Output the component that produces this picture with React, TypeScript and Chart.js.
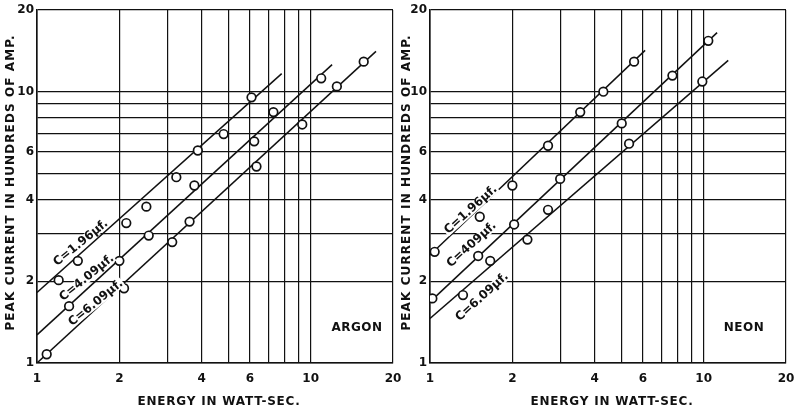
import React, { useEffect, useRef } from "react";
import { Chart, registerables } from "chart.js";

Chart.register(...registerables);

// ---------- axis ticks ----------
const GRID_VALUES = [1, 2, 3, 4, 5, 6, 7, 8, 9, 10, 20];
const LABEL_VALUES = [1, 2, 4, 6, 10, 20];

const Y_TITLE = "PEAK CURRENT IN HUNDREDS OF AMP.";
const X_TITLE = "ENERGY IN WATT-SEC.";

// ---------- ARGON (energy W·s, peak current in hundreds A) ----------
const argon196Pts: [number, number][] = [
  [1.2, 2.02], [1.41, 2.38], [2.12, 3.28], [2.51, 3.77], [3.23, 4.84],
  [3.87, 6.07], [4.81, 6.98], [6.08, 9.53],
];
const argon409Pts: [number, number][] = [
  [1.31, 1.62], [2.0, 2.38], [2.56, 2.95], [3.76, 4.51], [6.22, 6.56],
  [7.31, 8.41], [10.93, 11.2],
];
const argon609Pts: [number, number][] = [
  [1.085, 1.077], [2.08, 1.886], [3.12, 2.79], [3.61, 3.32], [6.34, 5.3],
  [9.32, 7.57], [12.47, 10.46], [15.63, 12.9],
];
const argon196Fit: [number, number][] = [[1.0, 1.82], [7.84, 11.65]];
const argon409Fit: [number, number][] = [[1.0, 1.27], [11.98, 12.58]];
const argon609Fit: [number, number][] = [[1.0, 1.0], [17.33, 14.08]];

// ---------- NEON ----------
const neon196Pts: [number, number][] = [
  [1.04, 2.57], [1.52, 3.46], [2.0, 4.51], [2.7, 6.32], [3.54, 8.41],
  [4.3, 10.0], [5.57, 12.9],
];
const neon409Pts: [number, number][] = [
  [1.02, 1.73], [1.5, 2.48], [2.03, 3.24], [2.99, 4.77], [5.02, 7.64],
  [7.69, 11.46], [10.4, 15.4],
];
const neon609Pts: [number, number][] = [
  [1.32, 1.78], [1.66, 2.38], [2.27, 2.85], [2.7, 3.67], [5.34, 6.43],
  [9.89, 10.9],
];
const neon196Fit: [number, number][] = [[1.0, 2.5], [6.11, 14.2]];
const neon409Fit: [number, number][] = [[1.0, 1.68], [11.2, 16.5]];
const neon609Fit: [number, number][] = [[1.0, 1.46], [12.3, 13.05]];

// curve labels: text and anchor in data coordinates
const argonLabels = [
  { text: "C=1.96µf.", x: 1.446, y: 2.77 },
  { text: "C=4.09µf.", x: 1.52, y: 2.06 },
  { text: "C=6.09µf.", x: 1.64, y: 1.665 },
];
const neonLabels = [
  { text: "C=1.96µf.", x: 1.41, y: 3.67 },
  { text: "C=409µf.", x: 1.42, y: 2.73 },
  { text: "C=6.09µf.", x: 1.55, y: 1.75 },
];

const INK = "#111111";
const FONT = '"DejaVu Sans", sans-serif';

type PanelCfg = {
  name: string;
  pts: [number, number][][];
  fits: [number, number][][];
  labels: { text: string; x: number; y: number }[];
  labelAngle: number;
  yAxisWidth: number;
  padRight: number;
  yTitleX: number;
  nameX: number;
  nameY: number;
};

function toXY(arr: [number, number][]) {
  return arr.map(([x, y]) => ({ x, y }));
}

function makeConfig(cfg: PanelCfg): any {
  const pointSets = cfg.pts.map((p) => ({
    type: "scatter",
    data: toXY(p),
    pointRadius: 4.3,
    pointHoverRadius: 4.3,
    pointBackgroundColor: "#ffffff",
    pointBorderColor: INK,
    pointBorderWidth: 1.7,
    showLine: false,
    order: 0,
  }));
  const fitSets = cfg.fits.map((f) => ({
    type: "scatter",
    data: toXY(f),
    showLine: true,
    borderColor: INK,
    borderWidth: 1.5,
    pointRadius: 0,
    fill: false,
    order: 1,
  }));

  const decor = {
    id: "decor_" + cfg.name,
    afterDatasetsDraw(chart: any) {
      const { ctx, chartArea } = chart;
      const xs = chart.scales.x;
      const ys = chart.scales.y;
      ctx.save();
      ctx.fillStyle = INK;
      ctx.textAlign = "center";
      ctx.textBaseline = "middle";
      ctx.font = `bold 12px ${FONT}`;

      // y title
      ctx.save();
      (ctx as any).letterSpacing = "1.1px";
      ctx.translate(cfg.yTitleX, (chartArea.top + chartArea.bottom) / 2 - 4);
      ctx.rotate(-Math.PI / 2);
      ctx.fillText(Y_TITLE, 0, 0);
      ctx.restore();

      // x title
      ctx.save();
      (ctx as any).letterSpacing = "0.8px";
      ctx.fillText(X_TITLE, (chartArea.left + chartArea.right) / 2 + 4, 402);
      ctx.restore();

      // panel name
      ctx.save();
      (ctx as any).letterSpacing = "0.5px";
      ctx.fillText(cfg.name, cfg.nameX, cfg.nameY);
      ctx.restore();

      // curve labels
      for (const l of cfg.labels) {
        const px = xs.getPixelForValue(l.x);
        const py = ys.getPixelForValue(l.y);
        ctx.save();
        ctx.translate(px, py);
        ctx.rotate((-cfg.labelAngle * Math.PI) / 180);
        ctx.fillStyle = "#ffffff";
        const w = ctx.measureText(l.text).width;
        ctx.fillRect(-w / 2 - 1, -5, w + 2, 10);
        ctx.fillStyle = INK;
        ctx.fillText(l.text, 0, 0);
        ctx.restore();
      }
      ctx.restore();
    },
  };

  const axisCommon = (isX: boolean) => ({
    type: "logarithmic",
    min: 1,
    max: 20,
    afterBuildTicks: (scale: any) => {
      scale.ticks = GRID_VALUES.map((v) => ({ value: v }));
    },
    afterFit: (scale: any) => {
      if (isX) {
        scale.height = 54;
        scale.paddingLeft = 0;
        scale.paddingRight = 0;
      } else {
        scale.width = cfg.yAxisWidth;
        scale.paddingTop = 0;
        scale.paddingBottom = 0;
      }
    },
    grid: {
      color: INK,
      lineWidth: 1.2,
      drawTicks: false,
    },
    border: { display: true, color: INK, width: 1.6 },
    ticks: {
      autoSkip: false,
      maxRotation: 0,
      minRotation: 0,
      padding: isX ? 9 : 3,
      color: INK,
      font: { family: FONT, size: 12, weight: "bold" },
      callback: (v: any) => (LABEL_VALUES.includes(Number(v)) ? String(v) : ""),
    },
  });

  return {
    type: "scatter",
    data: { datasets: [...pointSets, ...fitSets] },
    options: {
      responsive: false,
      animation: false,
      events: [],
      layout: { padding: { top: 10, right: cfg.padRight, bottom: 0, left: 0 } },
      plugins: {
        legend: { display: false },
        tooltip: { enabled: false },
        title: { display: false },
      },
      scales: {
        x: axisCommon(true),
        y: axisCommon(false),
      },
    },
    plugins: [decor],
  };
}

const argonCfg: PanelCfg = {
  name: "ARGON",
  pts: [argon196Pts, argon409Pts, argon609Pts],
  fits: [argon196Fit, argon409Fit, argon609Fit],
  labels: argonLabels,
  labelAngle: 39,
  yAxisWidth: 37,
  padRight: 17,
  yTitleX: 11,
  nameX: 357,
  nameY: 328,
};

const neonCfg: PanelCfg = {
  name: "NEON",
  pts: [neon196Pts, neon409Pts, neon609Pts],
  fits: [neon196Fit, neon409Fit, neon609Fit],
  labels: neonLabels,
  labelAngle: 42,
  yAxisWidth: 32,
  padRight: 10,
  yTitleX: 9,
  nameX: 346,
  nameY: 328,
};

function Panel({ cfg, left, width }: { cfg: PanelCfg; left: number; width: number }) {
  const ref = useRef<HTMLCanvasElement | null>(null);
  useEffect(() => {
    if (!ref.current) return;
    const chart = new Chart(ref.current, makeConfig(cfg));
    return () => chart.destroy();
  }, [cfg]);
  return (
    <canvas
      ref={ref}
      width={width}
      height={417}
      style={{ position: "absolute", left, top: 0, width, height: 417 }}
    />
  );
}

export default function App() {
  return (
    <div
      style={{
        position: "fixed",
        left: 0,
        top: 0,
        width: 796,
        height: 417,
        background: "#ffffff",
        overflow: "hidden",
      }}
    >
      <Panel cfg={argonCfg} left={0} width={410} />
      <Panel cfg={neonCfg} left={398} width={398} />
    </div>
  );
}
